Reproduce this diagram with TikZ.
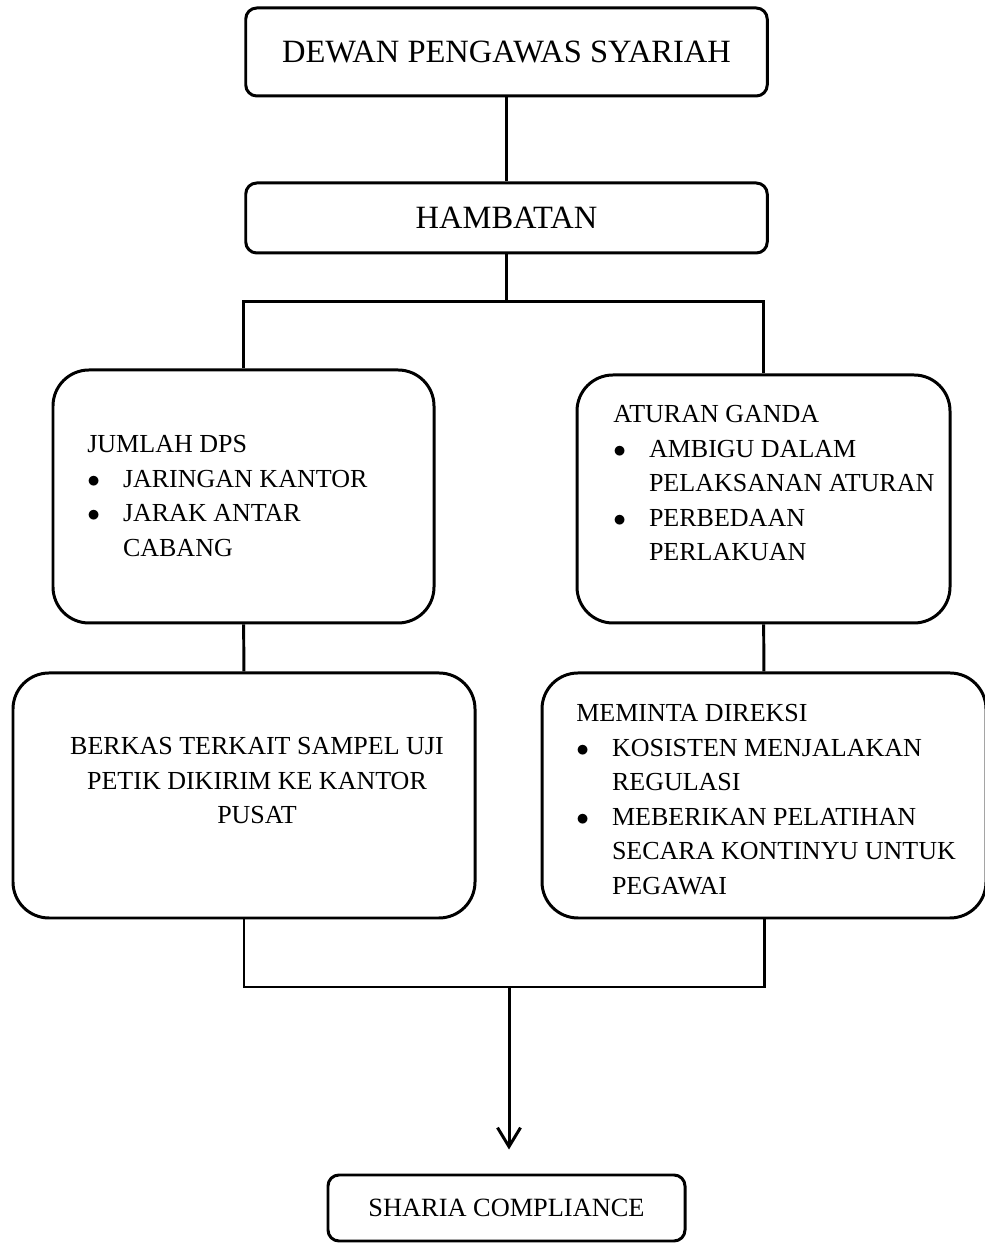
\documentclass[tikz,border=0pt]{standalone}
\usepackage{fontspec}
\setmainfont{Liberation Serif}
\usetikzlibrary{positioning, arrows.meta}

\tikzset{
  kotak/.style={draw, line width=1.7pt, rounded corners=0.22cm, inner sep=0pt},
  kotakbesar/.style={draw, line width=1.7pt, rounded corners=0.72cm, inner sep=0pt},
  garis/.style={line width=1.7pt},
  isi/.style={inner sep=0pt, font=\fontsize{14.8}{19.6}\selectfont},
  judul/.style={font=\fontsize{18.5}{22}\selectfont},
}
\newcommand{\poin}{$\bullet$}

\begin{document}
\begin{tikzpicture}
  \useasboundingbox (0,0) rectangle (19.70,24.86);

  % kotak atas
  \node[kotak, judul, minimum width=10.43cm, minimum height=1.76cm] (dps) at (10.13,23.82)
       {DEWAN PENGAWAS SYARIAH};
  \node[kotak, judul, minimum width=10.43cm, minimum height=1.40cm] (hambatan) at (10.13,20.50)
       {HAMBATAN};

  % empat kotak besar
  \node[kotakbesar, minimum width=7.62cm, minimum height=5.06cm] (jumlah) at (4.87,14.93) {};
  \node[kotakbesar, minimum width=7.46cm, minimum height=4.96cm] (ganda) at (15.27,14.88) {};
  \node[kotakbesar, minimum width=9.24cm, minimum height=4.90cm] (berkas) at (4.88,8.95) {};
  \node[kotakbesar, minimum width=8.88cm, minimum height=4.90cm] (direksi) at (15.28,8.95) {};

  % isi kotak
  \node[isi, anchor=base west] (jumlahisi) at (1.74,15.80)
       {\begin{tabular}[t]{@{}l@{\hspace{0.46cm}}l@{}}
          \multicolumn{2}{@{}l@{}}{JUMLAH DPS}\\
          \poin & JARINGAN KANTOR\\
          \poin & JARAK ANTAR\\
                & CABANG
        \end{tabular}};
  \node[isi, anchor=base west] (gandaisi) at (12.26,16.40)
       {\begin{tabular}[t]{@{}l@{\hspace{0.46cm}}l@{}}
          \multicolumn{2}{@{}l@{}}{ATURAN GANDA}\\
          \poin & AMBIGU DALAM\\
                & PELAKSANAN ATURAN\\
          \poin & PERBEDAAN\\
                & PERLAKUAN
        \end{tabular}};
  \node[isi, anchor=base] (berkasisi) at (5.14,9.76)
       {\begin{tabular}[t]{@{}c@{}}
          BERKAS TERKAIT SAMPEL UJI\\
          PETIK DIKIRIM KE KANTOR\\
          PUSAT
        \end{tabular}};
  \node[isi, anchor=base west] (direksiisi) at (11.52,10.42)
       {\begin{tabular}[t]{@{}l@{\hspace{0.46cm}}l@{}}
          \multicolumn{2}{@{}l@{}}{MEMINTA DIREKSI}\\
          \poin & KOSISTEN MENJALAKAN\\
                & REGULASI\\
          \poin & MEBERIKAN PELATIHAN\\
                & SECARA KONTINYU UNTUK\\
                & PEGAWAI
        \end{tabular}};

  % kotak bawah
  \node[kotak, isi, font=\fontsize{15}{19.6}\selectfont, minimum width=7.14cm, minimum height=1.32cm]
       (sharia) at (10.13,0.70) {SHARIA COMPLIANCE};

  % garis penghubung
  \coordinate (cabang) at (10.13,18.83);
  \coordinate (gabung) at (10.18,5.12);
  \draw[garis] (dps) -- (hambatan);
  \draw[garis] (hambatan) -- (cabang);
  \draw[garis] (jumlah.north) |- (cabang) -| (ganda.north);
  \draw[garis] (jumlah) -- (berkas);
  \draw[garis] (ganda) -- (direksi);
  \draw[garis] (berkas.south) |- (gabung) -| (direksi.south);
  \draw[garis, -{Straight Barb[length=0.38cm, width=0.46cm]}, shorten >=0.48cm]
       (gabung) -- (gabung |- sharia.north);
\end{tikzpicture}
\end{document}
